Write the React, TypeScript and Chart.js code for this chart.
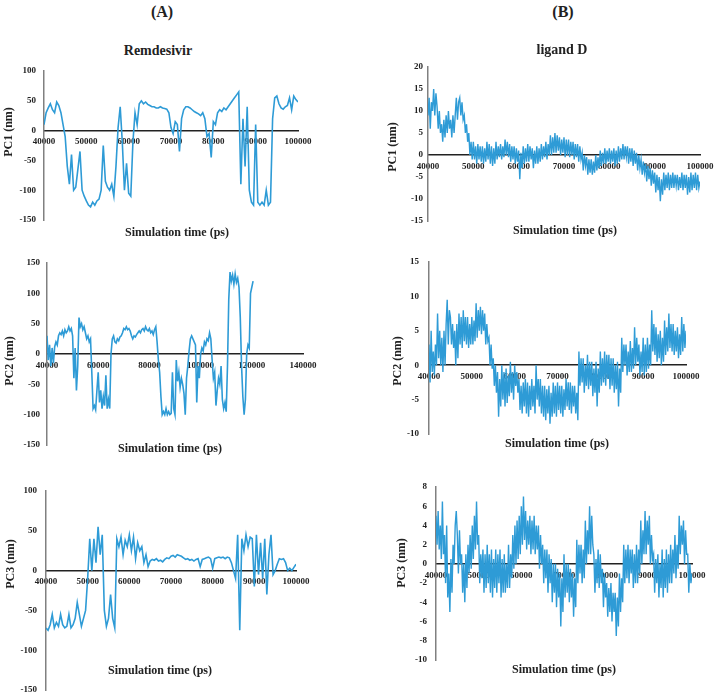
import { useEffect, useRef } from "react";
import { Chart, registerables } from "chart.js";

Chart.register(...registerables);

const LINE_BLUE = "#2e9bd6";
const SERIF = "'Liberation Serif', 'Times New Roman', serif";

// all trajectories start at 40000 ps; Remdesivir read every 500 ps, ligand D every 250 ps
const START_TIME = 40000;
const REM_STEP = 500;
const LIG_STEP = 250;

const remdesivirPC1 = [
  10, 30, 38, 45, 35, 30, 48, 42, 30, 10,
  -10, -60, -90, -40, -100, -95, -65, -35, -100, -110,
  -118, -125, -128, -120, -125, -118, -115, -100, -25, -85,
  -95, -100, -90, -110, -60, 5, 40, -20, -100, -55,
  -105, -110, -20, 30, 10, 45, 50, 45, 48, 44,
  42, 40, 40, 38, 38, 40, 38, 37, 36, 30,
  5, -5, 15, 10, -35, 20, 35, 40, 40, 38,
  35, 32, 30, 28, 25, 30, 20, -10, -5, -45,
  15, 10, 30, 35, 32, 38, 35, 40, 45, 50,
  55, 60, 65, -90, 20, -60, 40, -100, -120, -125,
  10, -120, -125, -120, -125, -100, -125, -120, 20, 55,
  58, 45, 38, 36, 40, 42, 55, 35, 58, 52,
  48,
];

const remdesivirPC2 = [
  30, -10, 15, -20, 10, -15, 12, 20, 15, 30,
  35, 32, 38, 30, 40, 35, 38, 45, 38, 42,
  30, -40, 10, -60, -20, 60, 45, 50, 40, 45,
  35, 25, 30, 20, 25, -30, -90, -85, -92, -60,
  -30, -80, -60, -90, -70, -85, -35, -90, -75, -90,
  0, 25, 30, 20, 18, 25, 22, 28, 30, 35,
  42, 40, 45, 40, 42, 38, 30, 25, 30, 28,
  32, 35, 38, 35, 40, 42, 38, 45, 40, 38,
  42, 35, 38, 32, 40, 45, 20, -10, -30, -70,
  -100, -95, -100, -90, -100, -95, -100, -98, -30, -90,
  -100, -10, -45, -30, -55, -40, -50, -65, -100, -40,
  -20, 5, 25, 30, 25, 20, 15, -80, -20, -40,
  0, 10, 5, 20, 15, 25, 22, 35, 25, -10,
  -40, -30, -85, -60, -40, -50, -20, -75, -90, -80,
  -95, -20, 90, 135, 120, 130, 115, 132, 118, 125,
  110, 60, -20, -70, -100, -75, 0, 15, 10, 100,
  110, 120,
];

const remdesivirPC3 = [
  -72, -75, -68, -55, -72, -65, -70, -55, -68, -72,
  -70, -55, -72, -68, -60, -40, -55, -70, -60, -50,
  -10, 40, 0, 40, 10, 55, 20, 45, -50, -70,
  -60, -30, -60, -72, 40, 30, 42, 20, 38, 30,
  45, 25, 42, 15, 35, 25, 30, 10, 20, 5,
  12, 14, 13, 15, 12, 13, 11, 14, 16, 15,
  18, 19, 17, 20, 19, 18, 16, 14, 15, 13,
  14, 12, 14, 15, 5, 14, 15, 16, 17, 15,
  3, 15, 16, 17, 16, 17, 15, 17, 16, 10,
  0, -10, 45, -75, 40, 25, 45, 30, 42, 40,
  -20, 45, -5, 35, -10, 40, -30, 20, 45, -5,
  0, 8, 15, 14, 15, 10, 0, 3, 0, 4,
  8,
];

// one row = 1000 ps
const ligandPC1 = [
  9, 13, 6, 12,   10, 15, 9, 14,   11, 6, 10, 5,   7, 3, 8, 4,   9, 5, 10, 6,
  8, 4, 9, 5,   9, 13, 8, 12,   13, 9, 12, 8,   9, 5, 7, 3,   5, 0, 3, -1,
  3, -1, 2, -2,   2.5, -1, 2, -1.5,   2, -2, 1.5, -1.5,   3, -1, 2.5, -2,   2, -2.5, 1.5, -2,
  3, -1, 2, -0.5,   2.5, -1, 2, -0.5,   3.5, 0, 3, -0.5,   2.5, -1.5, 2, -1,   2, -2, 1.5, -1.5,
  1, -5.5, 0.5, -3,   2, -2, 1.5, -1.5,   2.5, -1.5, 2, -1,   1.5, -3, 1, -2,   2, -2, 1.5, -1.5,
  2.5, -1, 2, -0.5,   3, -1, 2.5, 0,   4.5, 0, 4, 0.5,   5, 0.5, 4.5, 1,   4, 0, 3.5, 0.5,
  4, -0.5, 3.5, 0,   3.5, -0.5, 3, 0,   3, -1, 2.5, -0.5,   2.5, -1.5, 2, -1,   0.5, -3.5, 0, -2.5,
  -0.5, -4.5, -1, -4,   -1, -4.5, -1.5, -4,   0, -3.5, -0.5, -3,   1, -2.5, 0.5, -2,   1.5, -2, 1, -1.5,
  1.5, -2, 1, -1.5,   1.5, -2.5, 1, -2,   2, -1.5, 1.5, -1,   2.5, -1, 2, -0.5,   2, -2, 1.5, -1.5,
  1.5, -2.5, 1, -2,   0.5, -3.5, 0, -3,   -1, -4.5, -1.5, -4,   -2, -6, -2.5, -5.5,   -3, -7, -3.5, -6.5,
  -4, -8.5, -4.5, -8,   -5, -10.5, -5.5, -9,   -4, -8, -4.5, -7.5,   -4, -8, -4.5, -7.5,   -4, -7.5, -4.5, -7,
  -4.5, -8, -5, -7.5,   -4, -8, -4.5, -7.5,   -4.5, -9, -5, -8.5,   -4, -8, -4.5, -7.5,   -4, -8, -4.5, -7.5,
  -6,
];

const ligandPC2 = [
  3, -2.5, 5, -1,   2, -1.5, 3, 0,   7.5, 1, 5, 0,   4, -1, 5, 0,   6, 9.5, 3, 8,
  7, 3, 6, 2.5,   5, 0, 6, 1,   7.5, 3, 7, 2.5,   8, 3.5, 7, 3,   7, 2.5, 6, 3,
  7, 3, 6.5, 3.5,   9, 4, 8, 5,   8.5, 4.5, 8, 5,   7.5, 3, 6, 3.5,   4, 0, 3, -0.5,
  1, -3, 0, -4,   -1, -7.5, -2, -6,   0, -5, -1, -6,   -0.5, -5.5, -1.5, -4.5,   0.5, -4, -1, -5,
  0, -3, -1, -4,   -2, -6.5, -3, -7,   -2.5, -6, -2, -7,   -2.5, -7.5, -3, -6.5,   -2, -6, -3, -7,
  0, -5, -2, -6,   -2, -7, -3, -7.5,   -3, -8, -3.5, -7,   -3, -8.5, -4, -7.5,   -2.5, -7, -3, -7.5,
  -2.5, -6.5, -3, -7,   -3, -7.5, -3.5, -6.5,   -2, -6, -2.5, -6.5,   -2.5, -7, -3, -6,   -3, -7, -4, -8,
  2, -3, 1, -2.5,   1, -4, 0, -3,   1.5, -3.5, 0.5, -3,   0.5, -4.5, -0.5, -4,   0.5, -6, -0.5, -4,
  2, -3, 1, -2.5,   2, -3, 1.5, -2,   1.5, -3.5, 1, -3,   1, -4, 0, -3.5,   0.5, -6, -0.5, -4,
  4, -1, 3, 0,   3, -1.5, 2, -1,   3.5, -1, 2.5, -0.5,   5.5, 0, 4, 0.5,   3, -1.5, 2, -1,
  4, -1.5, 3, -1,   4, -0.5, 3, 0,   8, 2, 6, 1.5,   5.5, 0.5, 4.5, 1,   5, 0, 4, 0.5,
  6.5, 1.5, 5.5, 2,   7.5, 2.5, 6, 2,   6, 1.5, 5, 2,   5.5, 1, 4.5, 1.5,   7, 2, 6, 2.5,
  5,
];

const ligandPC3 = [
  5, 2, 5.5, 1.5,   4, 0.5, 6.5, 1,   3, -2, 4, -3.5,   -1, -5, 0.5, -3,   2, 0, 4, 5.5,
  3, -1, 3.5, 0,   1, -3, 0, -4,   1, -2.5, 2, -1,   3, -0.5, 4, 0.5,   5, 1.5, 6.5, 2,
  3, -2, 1, -1.5,   1.5, -3, 1, -2.5,   2, -2, 1, -3,   1.5, -3.5, 0.5, -2.5,   1.5, -3, 1, -2,
  1.5, -3.5, 0.5, -3,   1, -3, 0, -2.5,   2, -2.5, 1, -1.5,   3, -0.5, 4, 0,   4.5, 0.5, 5, 1,
  6, 2, 7, 2.5,   5.5, 1.5, 4.5, 2,   5, 1, 4.5, 1.5,   5, 1, 4, 1.5,   4, -0.5, 3, 0,
  2, -2, 1.5, -1.5,   1.5, -3, 1, -2,   0.5, -4, 0, -3,   0, -4.5, -0.5, -3.5,   -1, -6.5, -1.5, -5,
  1, -3.5, 0, -3,   0, -4, -0.5, -3.5,   -1, -5.5, -1.5, -4.5,   2.5, -2, 2, -1,   2, -2, 1.5, -1.5,
  4.5, 0, 3.5, 1,   6, 1, 5, 2,   1, -3, 0.5, -2,   1.5, -2.5, 1, -2,   -0.5, -4.5, -1, -3.5,
  -2, -5.5, -2.5, -5,   -2, -6, -3, -5,   -3, -7.5, -3.5, -6.5,   -1, -5, -1.5, -4,   2, -2, 1.5, -1.5,
  2, -2, 1.5, -1,   1.5, -2.5, 1, -2,   2, -2, 1.5, -1,   4.5, 0, 3.5, 1,   5.5, 1, 4.5, 2,
  5, 0, 3, 0.5,   1, -3, 0.5, -2,   1, -3.5, 0, -2.5,   1.5, -3.5, 0.5, -2.5,   1.5, -3, 1, -2,
  2, -2, 1.5, -1,   3, -1.5, 2, -0.5,   5, 1, 4, 2,   4.5, 0, 3.5, 1,   1, -3, 0, -2,
  -1,
];

// tick labels
const timeTicks = [40000, 50000, 60000, 70000, 80000, 90000, 100000];
const timeTicksWide = [40000, 60000, 80000, 100000, 120000, 140000];
const remPC1Ticks = [-150, -100, -50, 0, 50, 100];
const remPC2Ticks = [-150, -100, -50, 0, 50, 100, 150];
const remPC3Ticks = [-150, -100, -50, 0, 50, 100];
const ligPC1Ticks = [-15, -10, -5, 0, 5, 10, 15, 20];
const ligPC2Ticks = [-10, -5, 0, 5, 10, 15];
const ligPC3Ticks = [-10, -8, -6, -4, -2, 0, 2, 4, 6, 8];

interface PanelProps {
  values: number[];
  step: number;
  lineWidth: number;
  xTicks: number[];
  yTicks: number[];
  left: number;
  top: number;
  width: number;
  height: number;
  axisWidth: number;
  padTop: number;
  padBottom: number;
  padRight: number;
  labelGap: number;
}

function PCPanel(props: PanelProps) {
  const chartRef = useRef<HTMLCanvasElement>(null);

  useEffect(() => {
    if (!chartRef.current) return;
    const ctx = chartRef.current.getContext("2d");
    if (!ctx) return;

    const { values, step, xTicks, yTicks } = props;
    const points = values.map((v, i) => ({ x: START_TIME + i * step, y: v }));
    const tickFont = { family: SERIF, size: 9, weight: "bold" as const };

    const chart = new Chart(ctx, {
      type: "line",
      data: {
        datasets: [{
          data: points,
          borderColor: LINE_BLUE,
          borderWidth: props.lineWidth,
          pointRadius: 0,
          tension: 0,
        }],
      },
      options: {
        animation: false,
        responsive: true,
        maintainAspectRatio: false,
        layout: {
          padding: { left: 0, top: props.padTop, right: props.padRight, bottom: props.padBottom },
        },
        plugins: {
          legend: { display: false },
          tooltip: { enabled: false },
        },
        scales: {
          x: {
            type: "linear",
            min: xTicks[0],
            max: xTicks[xTicks.length - 1],
            position: { y: 0 },
            grid: { display: false, drawTicks: false },
            border: { display: true, color: "#222", width: 1.5 },
            ticks: {
              color: "#222",
              font: tickFont,
              padding: 6,
              maxRotation: 0,
              autoSkip: false,
              callback: (value) => String(value),
            },
            afterBuildTicks: (scale) => {
              scale.ticks = xTicks.map((v) => ({ value: v }));
            },
            afterFit: (scale) => {
              scale.paddingLeft = 0;
              scale.paddingRight = 0;
            },
          },
          y: {
            type: "linear",
            min: yTicks[0],
            max: yTicks[yTicks.length - 1],
            grid: { display: false, drawTicks: false },
            border: { display: true, color: "#808080", width: 1.5 },
            ticks: {
              color: "#222",
              font: tickFont,
              padding: props.labelGap,
              autoSkip: false,
              callback: (value) => String(value),
            },
            afterBuildTicks: (scale) => {
              scale.ticks = yTicks.map((v) => ({ value: v }));
            },
            afterFit: (scale) => {
              scale.width = props.axisWidth;
              scale.paddingTop = 0;
              scale.paddingBottom = 0;
            },
          },
        },
      },
    });

    return () => {
      chart.destroy();
    };
  }, [props]);

  return (
    <div style={{ position: "absolute", left: props.left, top: props.top, width: props.width, height: props.height }}>
      <canvas ref={chartRef}></canvas>
    </div>
  );
}

const panels: Array<PanelProps & { id: string }> = [
  { id: "rem1", values: remdesivirPC1, step: REM_STEP, lineWidth: 1.6, xTicks: timeTicks, yTicks: remPC1Ticks,
    left: 0, top: 60, width: 318, height: 172, axisWidth: 44, padTop: 11, padBottom: 12, padRight: 20, labelGap: 8 },
  { id: "lig1", values: ligandPC1, step: LIG_STEP, lineWidth: 1.4, xTicks: timeTicks, yTicks: ligPC1Ticks,
    left: 390, top: 56, width: 328, height: 177, axisWidth: 38, padTop: 11, padBottom: 12, padRight: 18, labelGap: 5 },
  { id: "rem2", values: remdesivirPC2, step: REM_STEP, lineWidth: 1.6, xTicks: timeTicksWide, yTicks: remPC2Ticks,
    left: 0, top: 252, width: 323, height: 205, axisWidth: 47, padTop: 11, padBottom: 12, padRight: 20, labelGap: 7 },
  { id: "lig2", values: ligandPC2, step: LIG_STEP, lineWidth: 1.4, xTicks: timeTicks, yTicks: ligPC2Ticks,
    left: 380, top: 251, width: 326, height: 195, axisWidth: 49, padTop: 11, padBottom: 12, padRight: 20, labelGap: 10 },
  { id: "rem3", values: remdesivirPC3, step: REM_STEP, lineWidth: 1.6, xTicks: timeTicks, yTicks: remPC3Ticks,
    left: 0, top: 480, width: 316, height: 218, axisWidth: 46, padTop: 11, padBottom: 8, padRight: 20, labelGap: 9 },
  { id: "lig3", values: ligandPC3, step: LIG_STEP, lineWidth: 1.4, xTicks: timeTicks, yTicks: ligPC3Ticks,
    left: 380, top: 476, width: 332, height: 196, axisWidth: 56, padTop: 11, padBottom: 12, padRight: 20, labelGap: 9 },
];

const labels = [
  { text: "(A)", x: 162, y: 12, size: 16, rotate: false },
  { text: "(B)", x: 563, y: 12, size: 16, rotate: false },
  { text: "Remdesivir", x: 158, y: 51, size: 14, rotate: false },
  { text: "ligand D", x: 562, y: 50, size: 14, rotate: false },
  { text: "Simulation time (ps)", x: 177, y: 232, size: 12, rotate: false },
  { text: "Simulation time (ps)", x: 565, y: 230, size: 12, rotate: false },
  { text: "Simulation time (ps)", x: 170, y: 448, size: 12, rotate: false },
  { text: "Simulation time (ps)", x: 557, y: 443, size: 12, rotate: false },
  { text: "Simulation time (ps)", x: 160, y: 670, size: 12, rotate: false },
  { text: "Simulation time (ps)", x: 564, y: 669, size: 12, rotate: false },
  { text: "PC1 (nm)", x: 8, y: 132, size: 12, rotate: true },
  { text: "PC1 (nm)", x: 392, y: 147, size: 12, rotate: true },
  { text: "PC2 (nm)", x: 9, y: 361, size: 12, rotate: true },
  { text: "PC2 (nm)", x: 397, y: 361, size: 12, rotate: true },
  { text: "PC3 (nm)", x: 10, y: 564, size: 12, rotate: true },
  { text: "PC3 (nm)", x: 401, y: 563, size: 12, rotate: true },
];

export default function App() {
  return (
    <div style={{ position: "absolute", left: 0, top: 0, width: 721, height: 700, background: "#fff", overflow: "hidden" }}>
      {panels.map(({ id, ...p }) => (
        <PCPanel key={id} {...p} />
      ))}
      {labels.map((l, i) => (
        <div
          key={i}
          style={{
            position: "absolute",
            left: l.x,
            top: l.y,
            transform: `translate(-50%, -50%)${l.rotate ? " rotate(-90deg)" : ""}`,
            fontFamily: SERIF,
            fontWeight: "bold",
            fontSize: l.size,
            color: "#222",
            whiteSpace: "nowrap",
            lineHeight: 1,
          }}
        >
          {l.text}
        </div>
      ))}
    </div>
  );
}
